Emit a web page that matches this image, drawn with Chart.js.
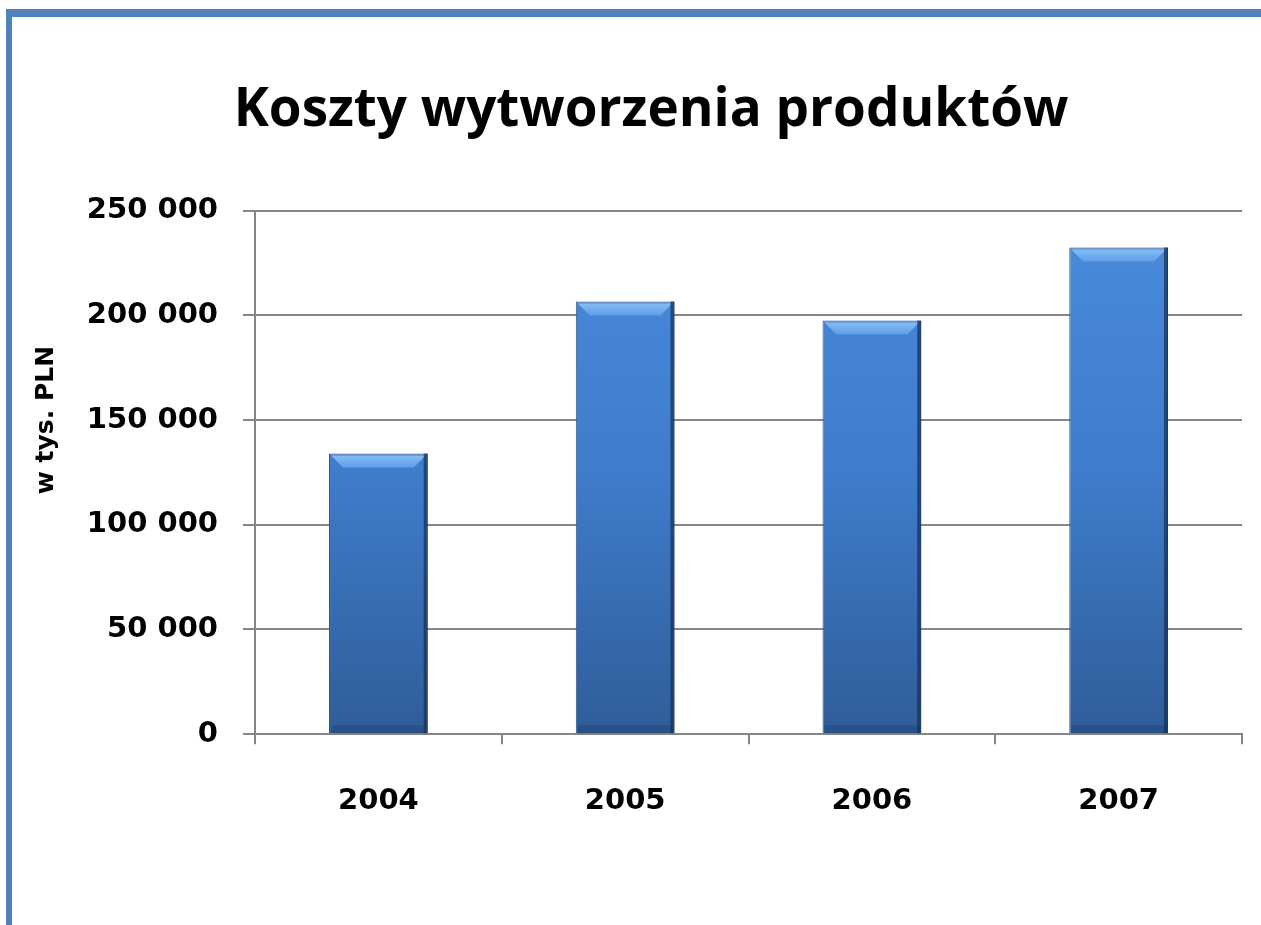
<!DOCTYPE html>
<html lang="pl">
<head>
<meta charset="utf-8">
<title>Koszty wytworzenia produktów</title>
<script src="https://cdn.jsdelivr.net/npm/chart.js@4/dist/chart.umd.min.js"></script>
<style>
  html, body { margin: 0; padding: 0; background: #fff; }
  #wrap { width: 1261px; height: 925px; position: relative; }
</style>
</head>
<body>
<div id="wrap"><canvas id="koszty"></canvas></div>
<script>
  // dane
  const years = ['2004', '2005', '2006', '2007']
  const costs = [134000, 206600, 197500, 232400]
  const yTicks = [0, 50000, 100000, 150000, 200000, 250000]
  const yTitle = 'w tys. PLN'

  const titleFont = '"Open Sans", Lato, sans-serif'
  const axisFont = '"DejaVu Sans", sans-serif'

  // ramka (niebieska linia u gory i z lewej)
  const frame = {
    id: 'frame',
    beforeDraw (chart) {
      const c = chart.ctx
      c.save()
      c.fillStyle = '#fff'
      c.fillRect(0, 0, chart.width, chart.height)
      c.fillStyle = '#4f81bd'
      c.fillRect(6, 9, chart.width - 6, 8)
      c.fillRect(6, 9, 6, chart.height - 9)
      c.restore()
    }
  }

  // opis osi Y - w oryginale lezy wyzej niz srodek osi
  const yLabel = {
    id: 'yLabel',
    afterDraw (chart) {
      const c = chart.ctx
      const area = chart.chartArea
      c.save()
      c.translate(46, area.top + (area.bottom - area.top) * 0.4)
      c.rotate(-Math.PI / 2)
      c.fillStyle = '#000'
      c.font = 'bold 25px ' + axisFont
      c.textAlign = 'center'
      c.textBaseline = 'middle'
      c.fillText(yTitle, 0, 0)
      c.restore()
    }
  }

  // jasny skos na gorze slupkow
  const bevel = {
    id: 'bevel',
    afterDatasetsDraw (chart) {
      const c = chart.ctx
      chart.getDatasetMeta(0).data.forEach(bar => {
        const l = bar.x - bar.width / 2
        const r = bar.x + bar.width / 2
        const t = bar.y
        c.save()
        const g = c.createLinearGradient(0, t, 0, t + 14)
        g.addColorStop(0, '#8cc2f7')
        g.addColorStop(1, '#5d9de8')
        c.fillStyle = g
        c.beginPath()
        c.moveTo(l + 2, t + 2)
        c.lineTo(r - 2, t + 2)
        c.lineTo(r - 14, t + 14)
        c.lineTo(l + 14, t + 14)
        c.closePath()
        c.fill()
        // ciemniejszy dol
        c.fillStyle = 'rgba(30, 60, 100, 0.35)'
        c.fillRect(l + 2, bar.base - 8, bar.width - 4, 8)
        // ciemna prawa krawedz
        c.fillStyle = 'rgba(20, 45, 85, 0.7)'
        c.fillRect(r - 4, t, 4, bar.base - t)
        c.restore()
      })
    }
  }

  const ctx = document.getElementById('koszty').getContext('2d')
  const chart = new Chart(ctx, {
    type: 'bar',
    data: {
      labels: years,
      datasets: [{
        label: 'Koszty',
        data: costs,
        backgroundColor: (context) => {
          const area = context.chart.chartArea
          if (!area) return '#3f7ccb'
          const g = context.chart.ctx.createLinearGradient(0, area.top, 0, area.bottom)
          g.addColorStop(0, '#4a8bdd')
          g.addColorStop(0.5, '#3f7ccb')
          g.addColorStop(1, '#2f5d99')
          return g
        },
        borderColor: '#2a5188',
        borderWidth: 1,
        categoryPercentage: 1,
        barPercentage: 0.4
      }]
    },
    options: {
      responsive: true,
      maintainAspectRatio: false,
      animation: false,
      layout: { padding: { left: 60, right: 19, top: 0, bottom: 66 } },
      plugins: {
        legend: { display: false },
        tooltip: { enabled: false },
        title: {
          display: true,
          text: 'Koszty wytworzenia produktów',
          color: '#000',
          font: { family: titleFont, size: 53, weight: 'bold' },
          padding: { top: 79, bottom: 68 }
        }
      },
      scales: {
        x: {
          grid: { drawOnChartArea: false, drawTicks: true, tickLength: 10, offset: true, color: '#868686', lineWidth: 2 },
          border: { color: '#868686', width: 2 },
          ticks: { color: '#000', font: { family: axisFont, size: 29, weight: 'bold' }, padding: 40 }
        },
        y: {
          min: 0,
          max: 250000,
          afterFit: (s) => { s.width = 195 },
          afterBuildTicks: (s) => { s.ticks = yTicks.map(v => ({ value: v })) },
          grid: { color: '#868686', lineWidth: 2, tickLength: 12 },
          border: { color: '#868686', width: 2 },
          ticks: {
            color: '#000',
            font: { family: axisFont, size: 29, weight: 'bold' },
            padding: 25,
            callback: (v) => String(v).replace(/\B(?=(\d{3})+(?!\d))/g, ' ')
          }
        }
      }
    },
    plugins: [frame, bevel, yLabel]
  })
</script>
</body>
</html>
